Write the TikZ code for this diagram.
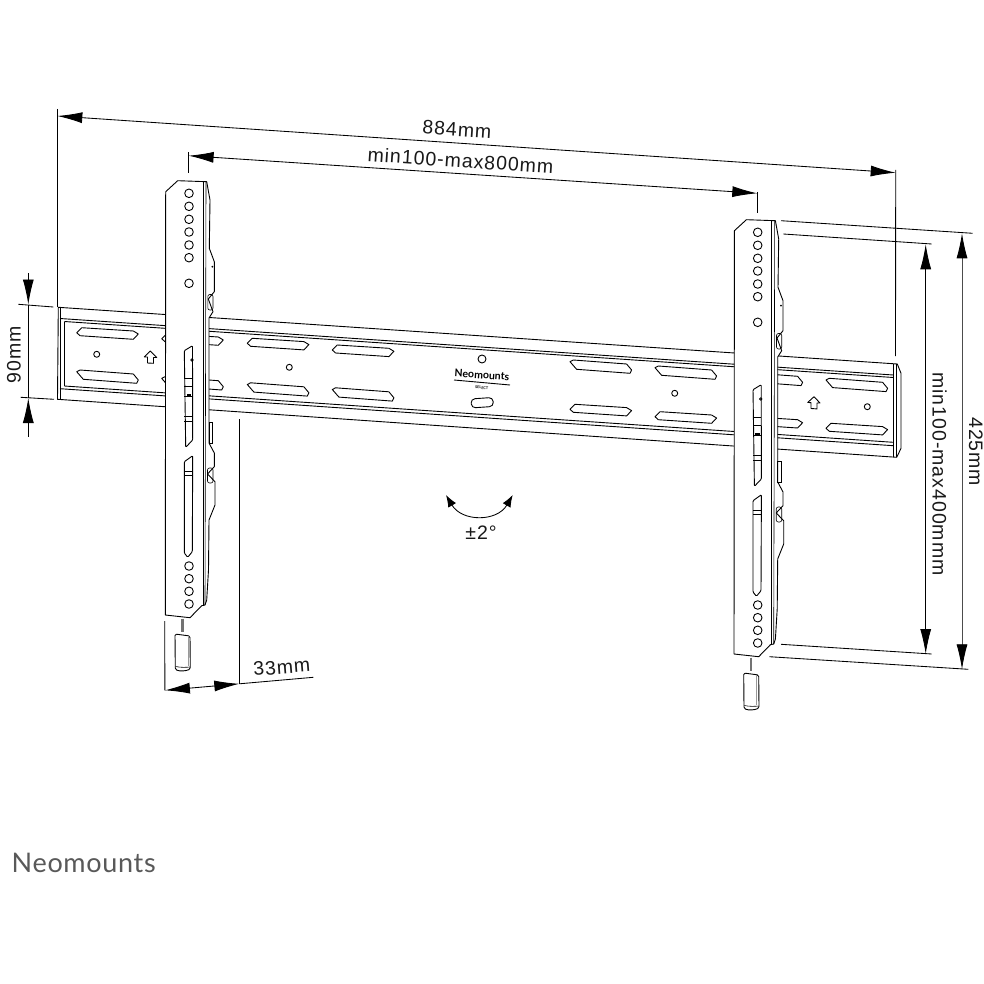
\documentclass[tikz,border=0pt]{standalone}
\usepackage{fontspec}
\usetikzlibrary{arrows.meta}
\newfontfamily\dimfont[LetterSpace=5]{Liberation Sans}
\newfontfamily\brandfont[LetterSpace=2.5]{Lato}
\newfontfamily\platefont{Lato Bold}
\tikzset{
  part/.style={draw=black,line width=0.9pt,line join=round},
  thinpart/.style={draw=black,line width=0.6pt},
  dimline/.style={draw=black,line width=0.85pt},
  dimtip/.style={{Latex[length=25pt,width=11pt,black]}-{Latex[length=25pt,width=11pt,black]}},
  dimarrow/.style={draw=black,line width=0.85pt,-{Latex[length=25pt,width=11pt,black]}},
  dimtext/.style={font=\dimfont\fontsize{19.5}{21}\selectfont,inner sep=0pt,text=black!90},
  swing/.style={draw=black,line width=0.85pt,{Latex[length=12pt,width=9pt]}-{Latex[length=12pt,width=9pt]}},
}
\newcommand{\slotU}[2]{\draw[part] (#1,#2) -- ++(5,-5) -- ++(51.6,3.3) -- ++(5,3) -- ++(-5,5.3) -- ++(-53.3,-3.6) -- cycle;}
\newcommand{\slotL}[2]{\draw[part] (#1,#2) -- ++(3.3,-1.7) -- ++(53.3,4) -- ++(5,6) -- ++(-1.6,3.3) -- ++(-53.4,-4) -- cycle;}
\newcommand{\hangbracket}{%
  \draw[part,fill=white] (165.7,191.7) -- (177.7,180.7) -- (206.7,181.7) -- (210,200) -- (209.3,248.3)
    -- (214.3,261.7) -- (214.3,291.7) -- (208.3,299) -- (213,311.7) -- (209,318) -- (209,443)
    -- (214.3,453) -- (214.3,466.7) -- (207.5,474) -- (215,481.7) -- (215,505) -- (209,520)
    -- (208.5,570) -- (206.7,600) -- (205,605) -- (201.7,605.7) -- (190,617.7) -- (165.3,615) -- cycle;
  \draw[part] (203,181.5) -- (203,606);
  \draw[thinpart] (206,181.5) -- (205,605);
  \foreach \hy in {193.3,206.3,219.3,232,245,257.7,283.3,566,578.7,591.3,604}
    \draw[part] (189,\hy) circle (4.3pt);
  \draw[part,rounded corners=1pt] (184.3,350.7) -- (192.5,345.7) -- (192.7,440) -- (185.7,447.3) -- cycle;
  \draw[part,rounded corners=1pt] (184.3,461.7) -- (192.7,455.7) -- (192.3,551.7) -- (187.7,557.3) -- (184.3,553) -- cycle;
  \foreach \ly in {378,386.7,396.7,416.7,421.7,471.7,475}
    \draw[thinpart] (184.3,\ly) -- (192.6,\ly);
  \fill (186.5,394) rectangle (191,397);
  \draw[part] (192,360) circle (1.3pt);
  \draw[thinpart,rounded corners=2pt] (207.8,294.5) rectangle (213,310);
  \draw[thinpart,rounded corners=2pt] (207.5,468) rectangle (213,483);
  \draw[thinpart] (209,422) rectangle (212.3,443);
  \fill (212.3,266.7) circle (1pt);
  \draw[black!55,line width=2.5pt] (182.3,618.5) -- (182.3,632);
  \draw[part,fill=white,rounded corners=1.5pt]
    (175,634) -- (190,636) -- (190.3,669) .. controls (186,671) and (180,671.5) .. (175.3,669.5) -- cycle;
  \draw[thinpart] (175.7,666.5) .. controls (180,667.5) and (186,667.5) .. (189.8,667);
  \draw[black!40,line width=0.5pt] (188,636) -- (188,666);
}
\begin{document}
\begin{tikzpicture}[x=1pt,y=-1pt]
\useasboundingbox (0,0) rectangle (984,984);
\fill[white] (0,0) rectangle (984,984);

% wall plate
\draw[part,fill=white] (58.3,307.3) -- (897.3,364) -- (901,373.3) -- (901,448.3) -- (896.7,457.3) -- (57.5,399.3) -- cycle;
\draw[part] (60,307.5) -- (60,399.5);
\draw[part] (64.3,321.5) -- (64.3,386);
\draw[part] (893.3,363.7) -- (893.3,457);
\draw[part] (896.7,364) -- (896.7,457.3);
\draw[part] (60,318.5) -- (893.3,375);
\draw[part] (64.3,321.5) -- (893.3,377.5);
\draw[part] (64.3,386) -- (893.3,442.3);
\draw[part] (60,388.7) -- (893.3,445.7);
\slotU{76.7}{332.7}\slotL{76.7}{371.7}
\slotU{161.7}{338.7}\slotL{161.7}{378.4}
\slotU{247.3}{343.3}\slotL{247.3}{384.5}
\slotU{332.3}{350}\slotL{332.3}{389.5}
\slotL{570}{361.7}\slotU{570}{409.3}
\slotL{655}{367.7}\slotU{655}{416.7}
\slotL{741}{374}\slotU{741}{421.4}
\slotL{826}{380}\slotU{826}{428.3}
\foreach \px/\py/\pr in {96.7/354.3/3,289.3/367.3/3,482/359/4,674.7/393.3/3,867.3/406.7/3}
  \draw[part] (\px,\py) circle (\pr pt);
\draw[part,fill=white] (150.3,351) -- (156.7,357.5) -- (153.5,357.5) -- (153.5,363.3) -- (147.5,363) -- (147.5,357) -- (144.3,357) -- cycle;
\draw[part,fill=white] (814,396.7) -- (820,403) -- (817,403) -- (817,408.9) -- (811,408.5) -- (811,402.6) -- (807.7,402.5) -- cycle;
\node[rotate=-3.9,inner sep=0pt,font=\platefont\fontsize{10.5}{11}\selectfont] (platelogo) at (482,374.8) {Neomounts};
\draw[line width=0.9pt] (454,380) -- (510,385);
\node[rotate=-3.9,inner sep=0pt,font=\platefont\fontsize{3.8}{4}\selectfont] (plateselect) at (481.7,387.7) {SELECT};
\draw[part,rotate around={3.9:(482.2,402.7)},rounded corners=4pt] (471.2,398.2) rectangle (493.2,407.2);

% brackets and pins
\begin{scope}\hangbracket\end{scope}
\begin{scope}[shift={(568.7,39)}]\hangbracket\end{scope}

% 884 dimension
\coordinate (aTop) at (57.3,109);
\coordinate (aTip) at (57.3,116);
\coordinate (aFoot) at (57.3,307);
\coordinate (bTop) at (895.7,170);
\coordinate (bTip) at (895.7,172.7);
\coordinate (bFoot) at (895.5,356);
\draw[dimline] (aTop) -- (aFoot);
\draw[dimline] (bTop) -- (bFoot);
\draw[dimline,dimtip] (aTip) -- (bTip);
\node[dimtext,rotate=-3.9] (t884) at (457,129.5) {884mm};

% 800 dimension
\coordinate (cTop) at (188.6,152.3);
\coordinate (cTip) at (188.6,155.7);
\coordinate (cFoot) at (188.6,172.7);
\coordinate (dTop) at (757.3,192);
\coordinate (dTip) at (757.3,193.3);
\coordinate (dFoot) at (757.3,213.3);
\draw[dimline] (cTop) -- (cFoot);
\draw[dimline] (dTop) -- (dFoot);
\draw[dimline,dimtip] (cTip) -- (dTip);
\node[dimtext,rotate=-3.9] (t800) at (460.5,160.5) {min100-max800mm};

% 90 dimension
\coordinate (e1) at (18.3,304.3);
\coordinate (e2) at (53.3,307);
\coordinate (f1) at (20.7,397.3);
\coordinate (f2) at (54,399.3);
\coordinate (gTop) at (28.3,273.3);
\coordinate (gTip) at (28.3,304.5);
\coordinate (hTip) at (28.3,398);
\coordinate (hEnd) at (28.3,436.7);
\draw[dimline] (e1) -- (e2);
\draw[dimline] (f1) -- (f2);
\draw[dimarrow] (gTop) -- (gTip);
\draw[dimarrow] (hEnd) -- (hTip);
\draw[dimline] (gTip) -- (hTip);
\node[dimtext,rotate=90] (t90) at (14,355) {90mm};

% 33 dimension
\coordinate (iTop) at (164.7,621);
\coordinate (iTip) at (164.9,690.3);
\coordinate (jTop) at (239.3,419.3);
\coordinate (jTip) at (239.3,683.8);
\coordinate (jEnd) at (313.3,677.3);
\draw[dimline] (iTop) -- (iTip);
\draw[dimline] (jTop) -- (jTip);
\draw[dimline,dimtip] (iTip) -- (jTip);
\draw[dimline] (jTip) -- (jEnd);
\node[dimtext,rotate=4.5] (t33) at (281.7,667) {33mm};

% right hand dimensions
\coordinate (k1) at (781,220.7);
\coordinate (k2) at (972.7,233.3);
\coordinate (l1) at (783.3,234);
\coordinate (l2) at (931.7,244);
\coordinate (m1) at (781,644.3);
\coordinate (m2) at (931.7,654);
\coordinate (n1) at (769.3,656.7);
\coordinate (n2) at (968.3,669.3);
\draw[dimline] (k1) -- (k2);
\draw[dimline] (l1) -- (l2);
\draw[dimline] (m1) -- (m2);
\draw[dimline] (n1) -- (n2);
\coordinate (oTip) at (925.7,244.3);
\coordinate (oBot) at (925.7,654);
\coordinate (pTip) at (962,233.3);
\coordinate (pBot) at (962,669.3);
\draw[dimline,dimtip] (oTip) -- (oBot);
\draw[dimline,draw=black!70,dimtip] (pTip) -- (pBot);
\node[dimtext,rotate=-90] (t400) at (939.5,474) {min100-max400mmm};
\node[dimtext,rotate=-90] (t425) at (975.7,451.7) {425mm};

% tilt
\coordinate (sA) at (446,495);
\coordinate (sB) at (512.7,495);
\draw[swing] (sA) .. controls (462,522) and (497,522) .. (sB);
\node[dimtext] (tilt) at (481,533) {±2°};

% brand
\node[anchor=base west,inner sep=0pt,text=black!65,font=\brandfont\fontsize{27}{28}\selectfont] (brand) at (11.5,872) {Neomounts};
\end{tikzpicture}
\end{document}
